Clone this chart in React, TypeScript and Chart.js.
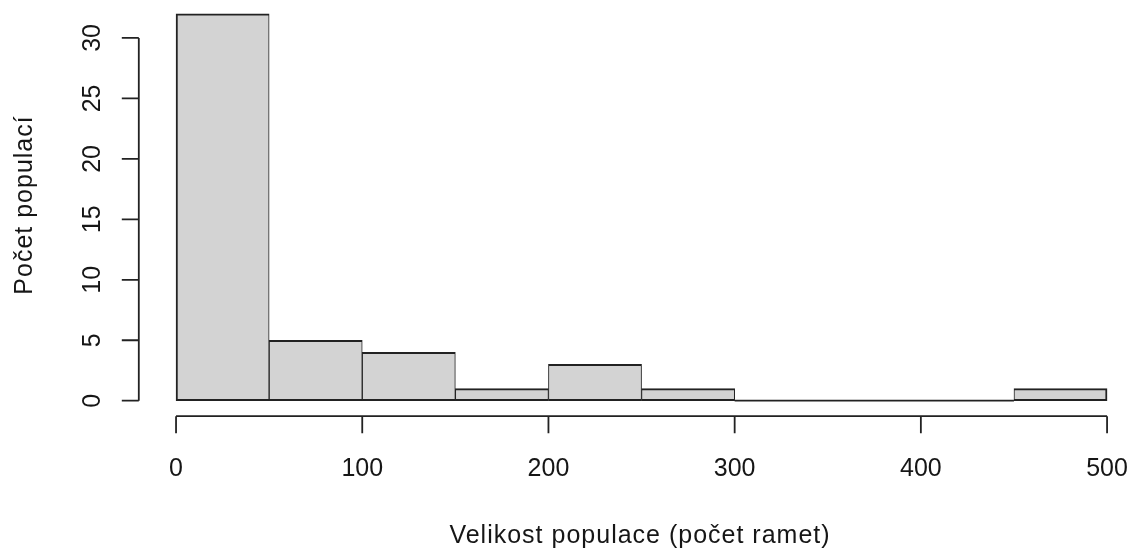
import React, { useEffect, useRef } from "react";
import { Chart, registerables } from "chart.js";

Chart.register(...registerables);

// Histogram bins (population size, number of ramets) and counts
const binStarts = [0, 50, 100, 150, 200, 250, 300, 350, 400, 450];
const binWidth = 50;
const counts = [32, 5, 4, 1, 3, 1, 0, 0, 0, 1];
const xTicks = [0, 100, 200, 300, 400, 500];
const yTicks = [0, 5, 10, 15, 20, 25, 30];
const xTitle = "Velikost populace (počet ramet)";
const yTitle = "Počet populací";

const FONT = '25px "Liberation Sans", Arial, sans-serif';
const INK = "#161616";
const LINE = "#222222";

// Base-graphics style axes: detached from the plot region, lines spanning the tick range only
const baseAxes = {
  id: "baseAxes",
  afterDraw(chart: any) {
    const { ctx, chartArea } = chart;
    const xs = chart.scales.x;
    const ys = chart.scales.y;
    ctx.save();
    ctx.strokeStyle = LINE;
    ctx.lineWidth = 1.8;
    ctx.fillStyle = INK;
    ctx.font = FONT;

    // y axis
    const ax = chartArea.left;
    const y0 = ys.getPixelForValue(yTicks[0]);
    const y1 = ys.getPixelForValue(yTicks[yTicks.length - 1]);
    ctx.beginPath();
    ctx.moveTo(ax, y0);
    ctx.lineTo(ax, y1);
    yTicks.forEach((t) => {
      const py = ys.getPixelForValue(t);
      ctx.moveTo(ax, py);
      ctx.lineTo(ax - 17, py);
    });
    ctx.stroke();
    ctx.textAlign = "center";
    ctx.textBaseline = "alphabetic";
    yTicks.forEach((t) => {
      const py = ys.getPixelForValue(t);
      ctx.save();
      ctx.translate(100, py);
      ctx.rotate(-Math.PI / 2);
      ctx.fillText(String(t), 0, 0);
      ctx.restore();
    });

    // x axis
    const ay = chartArea.bottom;
    const x0 = xs.getPixelForValue(xTicks[0]);
    const x1 = xs.getPixelForValue(xTicks[xTicks.length - 1]);
    ctx.beginPath();
    ctx.moveTo(x0, ay);
    ctx.lineTo(x1, ay);
    xTicks.forEach((t) => {
      const px = xs.getPixelForValue(t);
      ctx.moveTo(px, ay);
      ctx.lineTo(px, ay + 17);
    });
    ctx.stroke();
    xTicks.forEach((t) => {
      ctx.fillText(String(t), xs.getPixelForValue(t), 475.5);
    });

    // titles
    (ctx as any).letterSpacing = "1px";
    ctx.fillText(xTitle, 640, 542.7);
    ctx.save();
    ctx.translate(32, 205);
    ctx.rotate(-Math.PI / 2);
    ctx.fillText(yTitle, 0, 0);
    ctx.restore();
    ctx.restore();
  },
};

export default function App() {
  const ref = useRef<HTMLCanvasElement | null>(null);

  useEffect(() => {
    if (!ref.current) return;
    const bars = binStarts.map((s, i) => ({ x: s + binWidth / 2, y: counts[i] }));
    // outline along the baseline for empty bins
    const emptyIdx = counts.map((c, i) => (c === 0 ? i : -1)).filter((i) => i >= 0);
    const baseline =
      emptyIdx.length > 0
        ? [
            { x: binStarts[emptyIdx[0]], y: 0 },
            { x: binStarts[emptyIdx[emptyIdx.length - 1]] + binWidth, y: 0 },
          ]
        : [];
    const last = binStarts.length - 1;

    const chart = new Chart(ref.current, {
      type: "bar",
      data: {
        datasets: [
          {
            type: "bar",
            data: bars as any,
            backgroundColor: "#d3d3d3",
            borderColor: LINE,
            // shared edges of neighbouring bins add up to the same width as outer edges
            borderWidth: ((c: any) => ({
              top: 2,
              bottom: 2,
              left: c.dataIndex === 0 ? 2 : 1,
              right: c.dataIndex === last ? 2 : 1,
            })) as any,
            borderSkipped: false,
            barPercentage: 1,
            categoryPercentage: 1,
          },
          {
            type: "line",
            data: baseline as any,
            borderColor: LINE,
            borderWidth: 1.8,
            pointRadius: 0,
            fill: false,
          } as any,
        ],
      },
      options: {
        animation: false,
        responsive: false,
        maintainAspectRatio: false,
        events: [],
        layout: { padding: { left: 138.8, right: 0, top: 0, bottom: 137.8 } },
        plugins: { legend: { display: false }, tooltip: { enabled: false } },
        scales: {
          x: {
            type: "linear",
            min: -20,
            max: 515,
            offset: false,
            display: false,
            // bin edges as internal ticks so the bar width spans a full bin
            afterBuildTicks: (scale: any) => {
              scale.ticks = [...binStarts, binStarts[last] + binWidth].map((v) => ({ value: v }));
            },
          },
          y: { type: "linear", min: -1.28, max: 33.14, display: false },
        },
      },
      plugins: [baseAxes],
    });
    return () => chart.destroy();
  }, []);

  return (
    <div style={{ position: "absolute", left: 0, top: 0, width: 1135, height: 554, background: "#fff" }}>
      <canvas ref={ref} width={1135} height={554} style={{ display: "block", width: 1135, height: 554 }} />
    </div>
  );
}
